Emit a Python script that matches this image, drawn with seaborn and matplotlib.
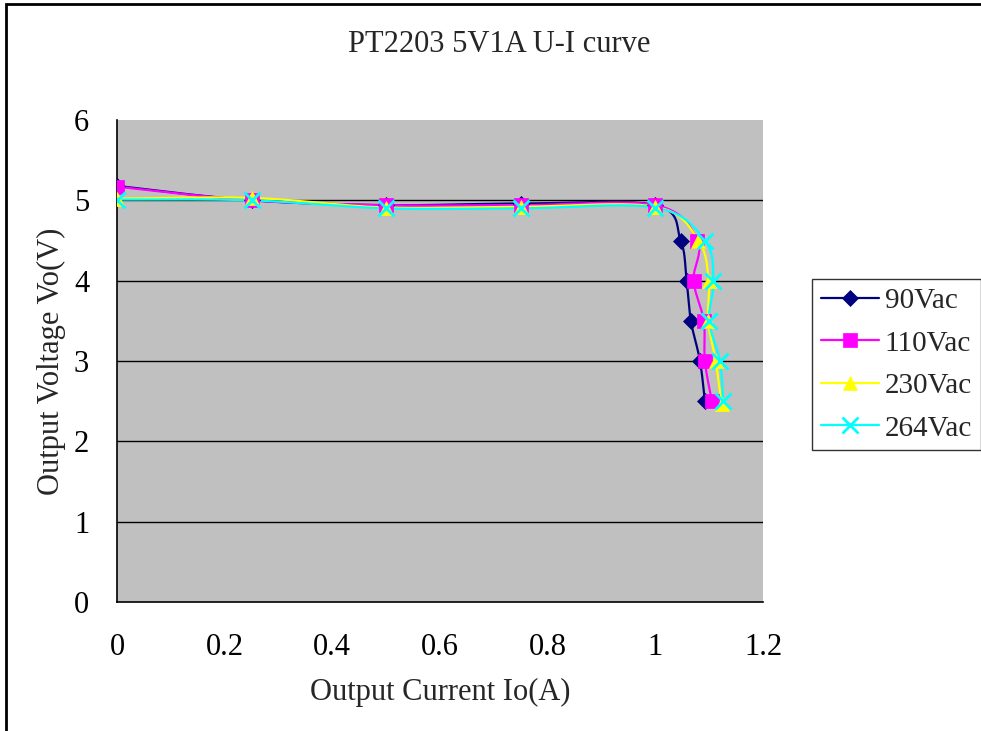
import numpy as np
import pandas as pd
import matplotlib
matplotlib.use('Agg')
import matplotlib.pyplot as plt
from matplotlib.patches import Rectangle
import seaborn as sns

# Data
series_names = ['90Vac', '110Vac', '230Vac', '264Vac']
x90 = [0, 0.25, 0.5, 0.75, 1.0, 1.047, 1.058, 1.066, 1.083, 1.092]
y90 = [5.18, 5.0, 4.94, 4.96, 4.94, 4.5, 4.0, 3.5, 3.0, 2.5]
x110 = [0, 0.25, 0.5, 0.75, 1.0, 1.078, 1.071, 1.090, 1.092, 1.105]
y110 = [5.17, 5.0, 4.94, 4.94, 4.94, 4.5, 4.0, 3.5, 3.0, 2.5]
x230 = [0, 0.25, 0.5, 0.75, 1.0, 1.080, 1.099, 1.098, 1.112, 1.123]
y230 = [5.02, 5.03, 4.91, 4.92, 4.92, 4.5, 4.0, 3.5, 3.0, 2.47]
x264 = [0, 0.25, 0.5, 0.75, 1.0, 1.092, 1.108, 1.100, 1.120, 1.126]
y264 = [5.01, 5.0, 4.9, 4.9, 4.91, 4.5, 4.0, 3.5, 3.0, 2.5]
x_ticks = [0, 0.2, 0.4, 0.6, 0.8, 1.0, 1.2]
x_tick_labels = ['0', '0.2', '0.4', '0.6', '0.8', '1', '1.2']
y_ticks = [0, 1, 2, 3, 4, 5, 6]


def smooth(xs, ys, n=20):
    """Catmull-Rom curve through the points, like Excel's smoothed line."""
    px = np.array([xs[0]] + list(xs) + [xs[-1]], dtype=float)
    py = np.array([ys[0]] + list(ys) + [ys[-1]], dtype=float)
    out_x, out_y = [], []
    t = np.linspace(0, 1, n, endpoint=False)
    for i in range(1, len(px) - 2):
        for p, out in ((px, out_x), (py, out_y)):
            p0, p1, p2, p3 = p[i - 1], p[i], p[i + 1], p[i + 2]
            out.extend(0.5 * (2 * p1 + (-p0 + p2) * t
                              + (2 * p0 - 5 * p1 + 4 * p2 - p3) * t ** 2
                              + (-p0 + 3 * p1 - 3 * p2 + p3) * t ** 3))
    out_x.append(xs[-1])
    out_y.append(ys[-1])
    return out_x, out_y


sns.set_style('white')
plt.rcParams['font.family'] = ['Liberation Serif', 'DejaVu Serif']
FS = 22

fig = plt.figure(figsize=(9.81, 7.31), dpi=100)
ax = fig.add_axes([117 / 981, 1 - 602 / 731, 646 / 981, 482 / 731])
ax.set_facecolor('#C0C0C0')

xs_all = [x90, x110, x230, x264]
ys_all = [y90, y110, y230, y264]
colors = ['#000080', '#FF00FF', '#FFFF00', '#00FFFF']
markers = ['D', 's', '^', 'x']
sizes = [8, 10, 10, 11]

for name, xs, ys, c, m, ms in zip(series_names, xs_all, ys_all, colors,
                                  markers, sizes):
    sx, sy = smooth(xs, ys)
    df = pd.DataFrame({'x': sx, 'y': sy})
    sns.lineplot(data=df, x='x', y='y', sort=False, estimator=None,
                 color=c, linewidth=1.6, ax=ax, zorder=3)
    ax.plot(xs, ys, linestyle='none', marker=m, color=c, markersize=ms,
            markeredgewidth=2 if m == 'x' else 0.5, zorder=4)
    ax.plot([], [], color=c, marker=m, markersize=ms,
            markeredgewidth=2 if m == 'x' else 0.5, linewidth=1.6,
            label=name)

ax.set_xlim(0, 1.2)
ax.set_ylim(0, 6)
ax.set_xticks(x_ticks)
ax.set_xticklabels(x_tick_labels)
ax.set_yticks(y_ticks)
for v in y_ticks[1:-1]:
    ax.axhline(v, color='black', linewidth=1, zorder=1)

for s in ['top', 'right']:
    ax.spines[s].set_visible(False)
for s in ['left', 'bottom']:
    ax.spines[s].set_color('black')
    ax.spines[s].set_linewidth(1.2)

ax.tick_params(axis='both', direction='in', length=7, width=1,
               color='black', labelsize=FS, labelcolor='black')
ax.tick_params(axis='x', pad=22)
ax.tick_params(axis='y', pad=20)

ax.set_xlabel('Output Current Io(A)', fontsize=FS, labelpad=12)
ax.set_ylabel('Output Voltage Vo(V)', fontsize=FS, labelpad=6)
fig.text(499 / 981, 1 - 44 / 731, 'PT2203 5V1A U-I curve', fontsize=FS,
         ha='center', va='center')

leg = ax.legend(loc='upper left', bbox_to_anchor=(812 / 981, 1 - 279 / 731),
                bbox_transform=fig.transFigure, fontsize=21, frameon=True,
                fancybox=False, shadow=False, handlelength=2.0,
                borderaxespad=0, labelspacing=0.55, handletextpad=0.2,
                borderpad=0.3)
leg.get_frame().set_edgecolor('black')
leg.get_frame().set_linewidth(1)

fig.patches.append(Rectangle((6 / 981, -0.05), 1.1, 1 - 4 / 731 + 0.05,
                             transform=fig.transFigure, fill=False,
                             edgecolor='black', linewidth=2))

plt.savefig('out.png', dpi=100)
